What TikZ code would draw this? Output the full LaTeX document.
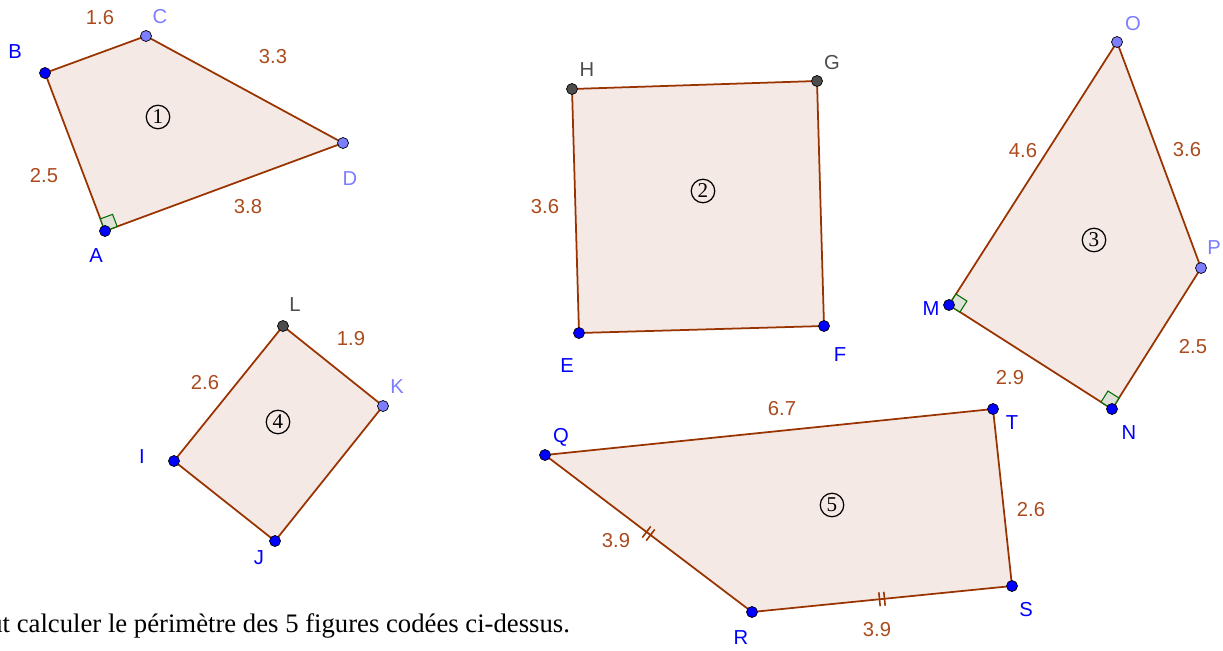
\documentclass[tikz,border=0pt]{standalone}
\usepackage{fontspec}
\setmainfont{Liberation Serif}
\setsansfont{Liberation Sans}
\usepackage{xcolor}
\usepackage{tikz}
\usetikzlibrary{calc}
\definecolor{ggbrown}{RGB}{153,51,0}
\definecolor{ggtext}{RGB}{170,75,30}
\definecolor{ggfill}{RGB}{245,233,229}
\definecolor{ggblue}{RGB}{0,0,255}
\definecolor{gglight}{RGB}{125,125,255}
\definecolor{gggray}{RGB}{77,77,77}
\definecolor{gggreen}{RGB}{0,110,0}
\definecolor{ggangle}{RGB}{222,226,214}
\tikzset{
  poly/.style={draw=ggbrown, fill=ggfill, line width=1pt, line join=round},
  ptblue/.style={circle, draw=black, fill=ggblue, inner sep=0pt,
                 minimum size=0.22cm, line width=0.4pt},
  ptlight/.style={ptblue, fill=gglight},
  ptgray/.style={ptblue, fill=gggray},
  lblblue/.style={font=\sffamily\fontsize{11.5}{13}\selectfont,
                  text=ggblue, inner sep=0pt},
  lbllight/.style={lblblue, text=gglight},
  lblgray/.style={lblblue, text=gggray},
  length/.style={font=\sffamily\fontsize{11.5}{13}\selectfont,
                 text=ggtext, inner sep=0pt},
  fignum/.style={circle, draw, line width=0.7pt, inner sep=0pt,
                 minimum size=0.47cm, font=\rmfamily\fontsize{12}{12}\selectfont},
  rangle/.style={draw=gggreen, fill=ggangle, line width=0.6pt},
  tickmark/.style={draw=ggbrown, line width=0.9pt}
}
% right angle at #1 between (#1)(#2) and (#1)(#3)
\newcommand{\rtanglemark}[3]{%
  \coordinate (ra) at ($(#1)!0.26cm!(#2)$);
  \coordinate (rb) at ($(#1)!0.26cm!(#3)$);
  \draw[rangle] (#1) -- (ra) -- ($(ra)+(rb)-(#1)$) -- (rb) -- cycle;}
% two ticks in the middle of [#1#2]
\newcommand{\doubletick}[2]{%
  \coordinate (tm) at ($(#1)!0.5!(#2)$);
  \foreach \s in {-0.05,0.05}
    \draw[tickmark] ($(tm)!\s cm!(#2)!0.14cm!90:(#2)$)
      -- ($(tm)!\s cm!(#2)!0.14cm!-90:(#2)$);}

\begin{document}
\begin{tikzpicture}[x=0.02cm, y=-0.02cm]
  \useasboundingbox (0,0) rectangle (1223,650);

  % figure 1
  \coordinate (A) at (105,231);
  \coordinate (B) at (45,73);
  \coordinate (C) at (146,36);
  \coordinate (D) at (343,143);
  % figure 2
  \coordinate (E) at (579,333);
  \coordinate (F) at (824,326);
  \coordinate (G) at (817,81);
  \coordinate (H) at (572,89);
  % figure 3
  \coordinate (M) at (949,305);
  \coordinate (N) at (1112,409);
  \coordinate (P) at (1201,268);
  \coordinate (O) at (1117,42);
  % figure 4
  \coordinate (I) at (174,461);
  \coordinate (J) at (275,541);
  \coordinate (K) at (383,406);
  \coordinate (L) at (283,326);
  % figure 5
  \coordinate (Q) at (545,455);
  \coordinate (R) at (752,612);
  \coordinate (S) at (1012,586);
  \coordinate (T) at (993,409);

  \draw[poly] (A) -- (B) -- (C) -- (D) -- cycle;
  \draw[poly] (E) -- (F) -- (G) -- (H) -- cycle;
  \draw[poly] (M) -- (N) -- (P) -- (O) -- cycle;
  \draw[poly] (I) -- (J) -- (K) -- (L) -- cycle;
  \draw[poly] (Q) -- (R) -- (S) -- (T) -- cycle;

  \rtanglemark{A}{B}{D}
  \rtanglemark{M}{O}{N}
  \rtanglemark{N}{M}{P}
  \doubletick{Q}{R}
  \doubletick{R}{S}

  \foreach \p in {A,B,E,F,M,N,I,J,Q,R,S,T}
    \node[ptblue] at (\p) {};
  \foreach \p in {C,D,O,P,K}
    \node[ptlight] at (\p) {};
  \foreach \p in {G,H,L}
    \node[ptgray] at (\p) {};

  % point names
  \node[lblblue] (lA) at (96,256) {A};
  \node[lblblue] (lB) at (15,52) {B};
  \node[lbllight] (lC) at (160,17) {C};
  \node[lbllight] (lD) at (350,179) {D};
  \node[lblblue] (lE) at (567,366) {E};
  \node[lblblue] (lF) at (840,355) {F};
  \node[lblgray] (lG) at (832,63) {G};
  \node[lblgray] (lH) at (587,70) {H};
  \node[lblblue] (lM) at (931,309) {M};
  \node[lblblue] (lN) at (1129,433) {N};
  \node[lbllight] (lO) at (1133,24) {O};
  \node[lbllight] (lP) at (1214,248) {P};
  \node[lblblue] (lI) at (142,457) {I};
  \node[lblblue] (lJ) at (259,558) {J};
  \node[lbllight] (lK) at (397,387) {K};
  \node[lblgray] (lL) at (295,305) {L};
  \node[lblblue] (lQ) at (561,437) {Q};
  \node[lblblue] (lR) at (741,638) {R};
  \node[lblblue] (lS) at (1026,610) {S};
  \node[lblblue] (lT) at (1012,423) {T};

  % lengths
  \node[length] (bc) at (100,18) {1.6};
  \node[length] (cd) at (273,57) {3.3};
  \node[length] (ab) at (44,176) {2.5};
  \node[length] (ad) at (248,207) {3.8};
  \node[length] (eh) at (545,207) {3.6};
  \node[length] (mo) at (1023,151) {4.6};
  \node[length] (op) at (1187,150) {3.6};
  \node[length] (np) at (1193,347) {2.5};
  \node[length] (mn) at (1010,378) {2.9};
  \node[length] (il) at (205,383) {2.6};
  \node[length] (lk) at (351,339) {1.9};
  \node[length] (qt) at (782,409) {6.7};
  \node[length] (st) at (1031,510) {2.6};
  \node[length] (qr) at (616,541) {3.9};
  \node[length] (rs) at (877,630) {3.9};

  % figure numbers
  \node[fignum] (n1) at (158,117) {1};
  \node[fignum] (n2) at (703,191) {2};
  \node[fignum] (n3) at (1094,240) {3};
  \node[fignum] (n4) at (278,422) {4};
  \node[fignum] (n5) at (832,505) {5};

  \node[anchor=base west, inner sep=0pt,
        font=\rmfamily\fontsize{15.2}{18}\selectfont] (consigne) at (-11,632)
    {ut calculer le périmètre des 5 figures codées ci-dessus.};
\end{tikzpicture}
\end{document}
